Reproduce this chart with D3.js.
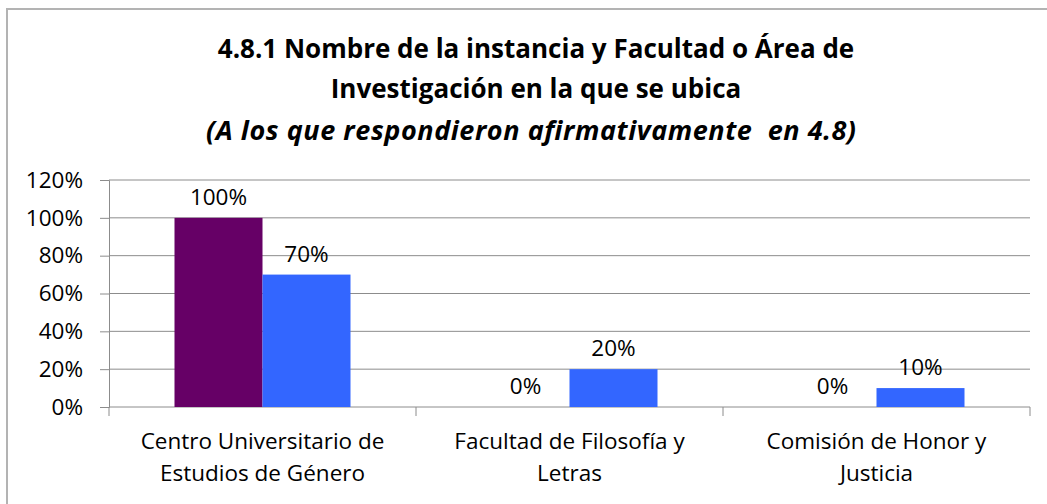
<!DOCTYPE html>
<html>
<head>
<meta charset="utf-8">
<script src="https://cdn.jsdelivr.net/npm/d3@7"></script>
<style>
  body { margin: 0; background: #fff; }
  text { font-family: "Open Sans", sans-serif; fill: #000; }
</style>
</head>
<body>
<div id="chart"></div>
<script>
// Datos
var categorias = [["Centro Universitario de", "Estudios de Género"], ["Facultad de Filosofía y", "Letras"], ["Comisión de Honor y", "Justicia"]];
var serie1 = [1.00, 0.00, 0.00];
var serie2 = [0.70, 0.20, 0.10];
var ticksY = [0, 0.2, 0.4, 0.6, 0.8, 1.0, 1.2];
var titulo = ["4.8.1 Nombre de la instancia y Facultad o Área de", "Investigación en la que se ubica"];
var subtitulo = "(A los que respondieron afirmativamente  en 4.8)";

var w = 1047, h = 504;
var margin = {top: 180, right: 17, bottom: 97, left: 109};
var width = w - margin.left - margin.right;
var height = h - margin.top - margin.bottom;
var fonte = 22.5;

var svg = d3.select("#chart").append("svg")
  .attr("width", w).attr("height", h);

// Borde del grafico
svg.append("path")
  .attr("d", "M7,504 L7,9 L1047,9")
  .attr("fill", "none").attr("stroke", "#b3b3b3").attr("stroke-width", 2);

// Titulo
svg.selectAll(".titulo").data(titulo).enter().append("text")
  .attr("x", 536).attr("y", function(d, i) { return 58 + i * 40; })
  .attr("text-anchor", "middle")
  .attr("font-size", "26px").attr("font-weight", "bold")
  .text(function(d) { return d; });
svg.append("text")
  .attr("x", 531).attr("y", 140)
  .attr("text-anchor", "middle")
  .attr("font-size", "27px").attr("font-weight", "bold").attr("font-style", "italic")
  .attr("textLength", 650).attr("lengthAdjust", "spacing")
  .style("white-space", "pre")
  .text(subtitulo);

var g = svg.append("g").attr("transform", "translate(" + margin.left + "," + margin.top + ")");

var x = d3.scaleBand().domain(d3.range(categorias.length)).range([0, width]);
var y = d3.scaleLinear().domain([0, 1.2]).range([height, 0]);
var barW = 88;

// Linhas de grade
g.selectAll(".grid").data(ticksY.slice(1)).enter().append("line")
  .attr("x1", 0).attr("x2", width)
  .attr("y1", function(d) { return y(d); }).attr("y2", function(d) { return y(d); })
  .attr("stroke", "#8c8c8c").attr("stroke-width", 1);

// Eixo y
var yAxis = d3.axisLeft(y).tickValues(ticksY).tickSize(9).tickPadding(17)
  .tickFormat(function(d) { return Math.round(d * 100) + "%"; });
g.append("g").call(yAxis)
  .call(function(s) {
    s.select(".domain").attr("stroke", "#8c8c8c");
    s.selectAll(".tick line").attr("stroke", "#8c8c8c");
    s.selectAll("text").attr("font-size", fonte + "px").attr("font-family", "'Open Sans', sans-serif").attr("fill", "#000");
  });

// Eixo x
g.append("line").attr("x1", 0).attr("x2", width).attr("y1", height).attr("y2", height)
  .attr("stroke", "#8c8c8c");
g.selectAll(".xtick").data(d3.range(categorias.length + 1)).enter().append("line")
  .attr("x1", function(d) { return d * x.step(); }).attr("x2", function(d) { return d * x.step(); })
  .attr("y1", height).attr("y2", height + 9).attr("stroke", "#8c8c8c");

categorias.forEach(function(c, i) {
  g.selectAll(".cat" + i).data(c).enter().append("text")
    .attr("x", x(i) + x.bandwidth() / 2)
    .attr("y", function(d, j) { return height + 42 + j * 32; })
    .attr("text-anchor", "middle").attr("font-size", fonte + "px")
    .text(function(d) { return d; });
});

// Barras
var series = [{v: serie1, cor: "#660066", off: -barW}, {v: serie2, cor: "#3366ff", off: 0}];
series.forEach(function(s) {
  g.selectAll(null).data(s.v).enter().append("rect")
    .attr("x", function(d, i) { return x(i) + x.bandwidth() / 2 + s.off; })
    .attr("y", function(d) { return y(d); })
    .attr("width", barW)
    .attr("height", function(d) { return height - y(d); })
    .attr("fill", s.cor);
  g.selectAll(null).data(s.v).enter().append("text")
    .attr("x", function(d, i) { return x(i) + x.bandwidth() / 2 + s.off + barW / 2; })
    .attr("y", function(d) { return y(d) - 13; })
    .attr("text-anchor", "middle").attr("font-size", fonte + "px")
    .text(function(d) { return Math.round(d * 100) + "%"; });
});
</script>
</body>
</html>
